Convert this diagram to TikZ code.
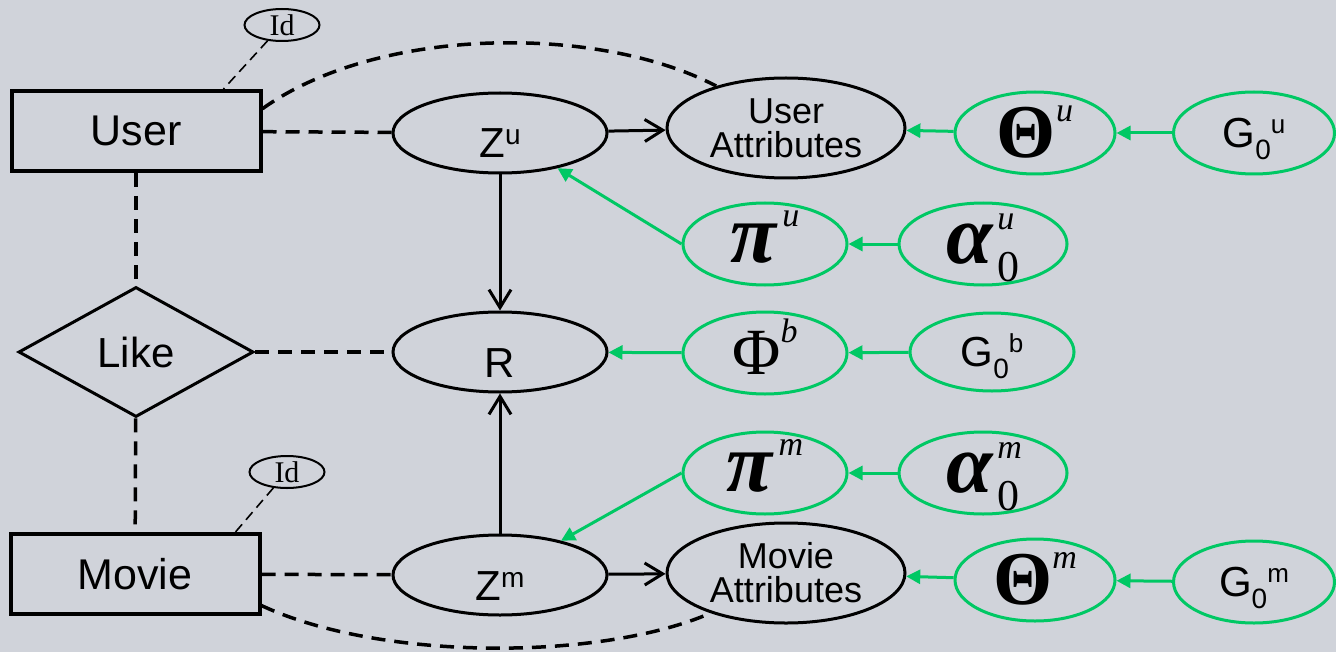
\documentclass[tikz,border=0pt]{standalone}
\usepackage{fontspec}
\setmainfont{Liberation Serif}
\setsansfont{Liberation Sans}
\usepackage{tikz}
\usetikzlibrary{shapes.geometric,arrows.meta}

\definecolor{bggray}{RGB}{208,211,218}
\definecolor{prior}{RGB}{0,200,100}

\newcommand{\fsz}[1]{\fontsize{#1}{#1}\selectfont}
\newcommand{\up}[2]{\raisebox{#1}[0pt][0pt]{#2}}

\tikzset{
  entity/.style={draw, line width=2pt, rectangle, minimum width=124.5pt, minimum height=40pt, inner sep=0pt, font=\sffamily\fsz{21.5}},
  relation/.style={draw, line width=1.5pt, diamond, minimum width=117.5pt, minimum height=65pt, inner sep=0pt, font=\sffamily\fsz{21}},
  latent/.style={draw, line width=1.5pt, ellipse, minimum width=107pt, minimum height=40pt, inner sep=0pt, text height=25pt, font=\sffamily\fsz{21}},
  attr/.style={draw, line width=1.5pt, ellipse, minimum width=119pt, minimum height=50pt, inner sep=0pt, align=center, font=\sffamily\fontsize{18}{17}\selectfont},
  param/.style={draw=prior, line width=1.5pt, ellipse, minimum width=82pt, minimum height=41pt, inner sep=0pt},
  idkey/.style={draw, line width=1pt, ellipse, minimum width=37.5pt, minimum height=16pt, inner sep=0pt, font=\fsz{15}},
  link/.style={line width=1.75pt, dash pattern=on 7pt off 4.5pt},
  idlink/.style={line width=0.8pt, dash pattern=on 5pt off 3pt},
  dep/.style={line width=1.5pt, -{Straight Barb[length=9pt,width=11pt]}},
  hyper/.style={prior, line width=1.5pt, -{Triangle[length=7pt,width=7pt]}}
}

\begin{document}
\begin{tikzpicture}[x=0.5pt,y=-0.5pt]
\useasboundingbox (0,0) rectangle (1336,652);
\fill[bggray] (0,0) rectangle (1336,652);

% ER part
\node[entity] (user) at (136,131) {User};
\node[relation] (like) at (136,352) {Like};
\node[entity] (movie) at (135,574) {Movie};
\node[idkey] (idu) at (282,25) {Id};
\node[idkey] (idm) at (287,472) {Id};

% latent variables and attributes
\node[latent] (zu) at (500,133) {Z\up{6.5pt}{\fsz{14}u}};
\node[latent] (r) at (500,352) {R};
\node[latent] (zm) at (500,575) {Z\up{6.5pt}{\fsz{14}m}};
\node[attr] (uattr) at (786,128) {User\\Attributes};
\node[attr] (mattr) at (786,573) {Movie\\Attributes};

% priors
\node[param, minimum width=80pt] (thu) at (1035,133) {{\fsz{38}\bfseries Θ}\up{18pt}{\fsz{17}\itshape u}};
\node[param, minimum width=80.5pt] (g0u) at (1254,133) {\sffamily\fsz{21}G\up{-6pt}{\fsz{14}0}\up{7pt}{\fsz{13}u}};
\node[param] (piu) at (765,244) {{\fsz{42}\bfseries\itshape π}\hspace{3pt}\up{18pt}{\fsz{17}\itshape u}};
\node[param, minimum width=84pt] (a0u) at (983,244) {{\fsz{42}\bfseries\itshape α}\hspace{2pt}\rlap{\up{17pt}{\fsz{17}\itshape u}}\up{-9pt}{\fsz{22}0}};
\node[param] (phib) at (765,353) {{\fsz{33}Φ}\up{16pt}{\fsz{17}\itshape b}};
\node[param, minimum height=39pt] (g0b) at (992,352) {\sffamily\fsz{21}G\up{-6pt}{\fsz{14}0}\up{7pt}{\fsz{13}b}};
\node[param] (pim) at (765,473) {{\fsz{42}\bfseries\itshape π}\hspace{3pt}\up{18pt}{\fsz{17}\itshape m}};
\node[param, minimum width=84pt] (a0m) at (983,473) {{\fsz{42}\bfseries\itshape α}\hspace{2pt}\rlap{\up{17pt}{\fsz{17}\itshape m}}\up{-9pt}{\fsz{22}0}};
\node[param, minimum width=80pt] (thm) at (1035,580) {{\fsz{38}\bfseries Θ}\up{18pt}{\fsz{17}\itshape m}};
\node[param, minimum width=80.5pt] (g0m) at (1254,582) {\sffamily\fsz{21}G\up{-6pt}{\fsz{14}0}\up{7pt}{\fsz{13}m}};

% dashed links
\draw[link] (user) -- (zu);
\draw[link] (user.10) .. controls (380,25) and (600,25) .. (uattr.149);
\draw[link] (user) -- (like);
\draw[link] (like) -- (movie);
\draw[link] (like) -- (r);
\draw[link] (movie) -- (zm);
\draw[link] (movie.-14) .. controls (380,661) and (600,661) .. (mattr.208);
\draw[idlink] (idu) -- ([xshift=-19.5pt]user.north east);
\draw[idlink] (idm) -- ([xshift=-13pt]movie.north east);

% dependencies
\draw[dep] (zu) -- (r);
\draw[dep] (zm) -- (r);
\draw[dep] (zu) -- (uattr);
\draw[dep] (zm) -- (mattr);

\draw[hyper] (thu) -- (uattr);
\draw[hyper] (g0u) -- (thu);
\draw[hyper] (piu.west) -- (zu);
\draw[hyper] (a0u) -- (piu);
\draw[hyper] (phib) -- (r);
\draw[hyper] (g0b) -- (phib);
\draw[hyper] (pim.west) -- (zm);
\draw[hyper] (a0m) -- (pim);
\draw[hyper] (thm) -- (mattr);
\draw[hyper] (g0m) -- (thm);
\end{tikzpicture}
\end{document}
